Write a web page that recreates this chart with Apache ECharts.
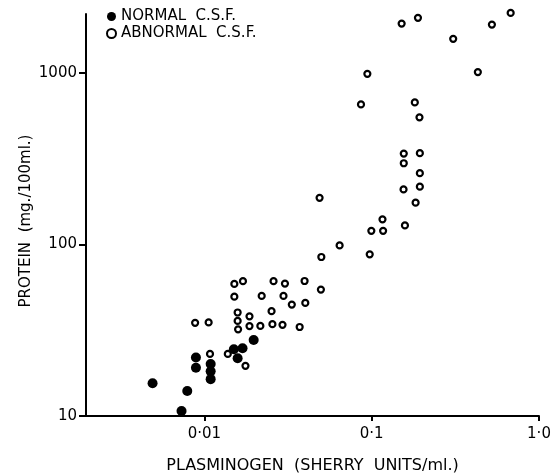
<!DOCTYPE html>
<html>
<head>
<meta charset="utf-8">
<script src="https://cdn.jsdelivr.net/npm/echarts@6/dist/echarts.min.js"></script>
<style>
  html, body { margin: 0; padding: 0; background: #fff; }
  #chart { width: 559px; height: 473px; }
</style>
</head>
<body>
<div id="chart"></div>
<script>
// plasminogen (Sherry units/ml) vs protein (mg/100ml)
const normalPlasminogen = [0.0049, 0.0079, 0.0073, 0.0089, 0.0089, 0.0109, 0.0109, 0.0109, 0.0150, 0.0169, 0.0158, 0.0197];
const normalProtein = [15.5, 14.0, 10.7, 21.9, 19.1, 20.1, 18.2, 16.4, 24.5, 24.8, 21.7, 27.7];

const abnormalPlasminogen = [
  0.0088, 0.0106, 0.0108, 0.0138, 0.0176, 0.0151, 0.0170, 0.0151, 0.0259, 0.0220,
  0.0158, 0.0158, 0.0159, 0.0186, 0.0186, 0.0216, 0.0252, 0.0255, 0.0303, 0.0397,
  0.0297, 0.0333, 0.0401, 0.0497, 0.0293, 0.0371, 0.0488, 0.0643, 0.050, 0.0973,
  0.0995, 0.117, 0.116, 0.158, 0.183, 0.155, 0.194, 0.194, 0.1555, 0.1555,
  0.194, 0.193, 0.181, 0.0863, 0.0942, 0.431, 0.151, 0.189, 0.307, 0.523, 0.677
];
const abnormalProtein = [
  34.9, 35.1, 23.0, 23.0, 19.6, 58.8, 61.0, 49.6, 61.0, 50.1,
  40.1, 35.8, 32.0, 38.1, 33.4, 33.5, 40.8, 34.3, 59.1, 61.2,
  50.1, 44.6, 45.6, 54.5, 34.0, 33.0, 186.8, 98.6, 84.4, 87.5,
  120, 120, 140, 129, 175, 209, 217, 260, 297, 338,
  340, 550, 672, 654, 986, 1009, 1936, 2089, 1577, 1909, 2233
];

const xTicks = [0.01, 0.1, 1];
const xTickLabels = ['0·01', '0·1', '1·0'];
const yTicks = [10, 100, 1000];
const yTickLabels = ['10', '100', '1000'];

const font = 'DejaVu Sans';

function pairs(xs, ys) {
  return xs.map((x, i) => [x, ys[i]]);
}

function tickLabel(ticks, labels) {
  return v => labels[ticks.findIndex(t => Math.abs(t - v) / t < 1e-6)] ?? '';
}

const chart = echarts.init(document.getElementById('chart'), null, { renderer: 'canvas' });

chart.setOption({
  animation: false,
  backgroundColor: '#fff',
  textStyle: { fontFamily: font, color: '#000' },
  grid: { left: 86, right: 20, top: 14, bottom: 57, outerBoundsMode: 'none' },
  legend: {
    orient: 'vertical',
    left: 101,
    top: 4,
    itemWidth: 9,
    itemHeight: 9,
    itemGap: 2,
    textStyle: { fontFamily: font, fontSize: 15, color: '#000' },
    data: [
      { name: 'NORMAL  C.S.F.', icon: 'circle' },
      { name: 'ABNORMAL  C.S.F.', icon: 'circle' },
    ],
  },
  xAxis: {
    type: 'log',
    min: 0.00196,
    max: 1,
    name: 'PLASMINOGEN  (SHERRY  UNITS/ml.)',
    nameLocation: 'middle',
    nameGap: 42,
    nameMoveOverlap: false,
    nameTextStyle: { fontFamily: font, fontSize: 16, color: '#000' },
    axisLine: { lineStyle: { color: '#000', width: 2 } },
    axisTick: { customValues: xTicks, length: 5, lineStyle: { color: '#000', width: 2 } },
    axisLabel: {
      customValues: xTicks,
      margin: 11,
      fontSize: 15,
      color: '#000',
      formatter: tickLabel(xTicks, xTickLabels),
    },
    splitLine: { show: false },
    minorTick: { show: false },
  },
  yAxis: {
    type: 'log',
    min: 10,
    max: 2200,
    name: 'PROTEIN  (mg./100ml.)',
    nameLocation: 'middle',
    nameGap: 52,
    nameMoveOverlap: false,
    nameTextStyle: { fontFamily: font, fontSize: 15, color: '#000', padding: [0, 12, 0, 0] },
    axisLine: { lineStyle: { color: '#000', width: 2 } },
    axisTick: { customValues: yTicks, length: 7, lineStyle: { color: '#000', width: 2 } },
    axisLabel: {
      customValues: yTicks,
      margin: 9,
      fontSize: 15,
      color: '#000',
      formatter: tickLabel(yTicks, yTickLabels),
    },
    splitLine: { show: false },
    minorTick: { show: false },
  },
  series: [
    {
      name: 'NORMAL  C.S.F.',
      type: 'scatter',
      clip: false,
      symbol: 'circle',
      symbolSize: 10,
      itemStyle: { color: '#000', opacity: 1 },
      data: pairs(normalPlasminogen, normalProtein),
    },
    {
      name: 'ABNORMAL  C.S.F.',
      type: 'scatter',
      clip: false,
      symbol: 'circle',
      symbolSize: 6,
      itemStyle: { color: '#fff', borderColor: '#000', borderWidth: 2.2, opacity: 1 },
      data: pairs(abnormalPlasminogen, abnormalProtein),
    },
  ],
});
</script>
</body>
</html>
